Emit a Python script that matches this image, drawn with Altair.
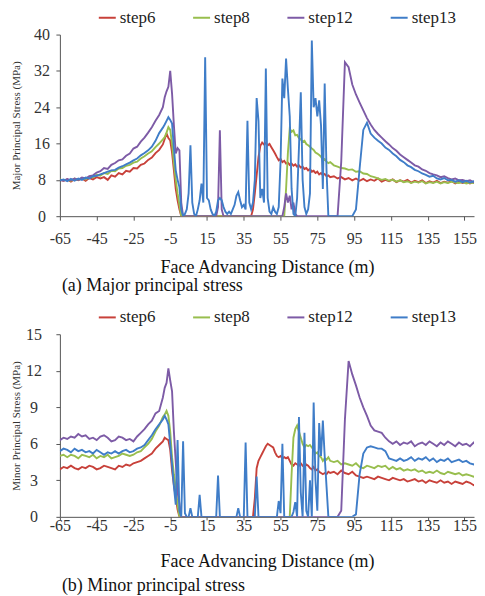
import altair as alt
import pandas as pd

# sampling grid of face advancing distance (m)
X = list(range(-65, -8, 2)) + list(range(-8, 83)) + list(range(84, 165, 2))

SERIES = ["step6", "step8", "step12", "step13"]
COLORS = ["#C8413A", "#98BE4E", "#7D5BA6", "#3F7DC8"]
X_TICKS = [-65, -45, -25, -5, 15, 35, 55, 75, 95, 115, 135, 155]
MAJ_TICKS = [0, 8, 16, 24, 32, 40]
MIN_TICKS = [0, 3, 6, 9, 12, 15]

# ---------------- (a) Major principal stress (MPa) ----------------
MAJ_STEP6 = [
    8.0, 7.8, 8.1, 7.6, 8.2, 7.9, 8.3, 7.8, 8.4, 8.1,
    8.6, 8.3, 8.6, 8.0, 9.0, 8.7, 9.5, 9.2, 10.0, 9.8,
    10.6, 10.5, 11.3, 11.6, 12.4, 12.9, 13.9, 14.6, 15.8,
    17.0, 18.2, 17.2, 16.7, 14.0, 10.1, 6.0, 3.5, 1.5, 0,
    0, 0, 0, 0, 0, 0, 0, 0, 0, 0, 0, 0, 0, 0, 0, 0, 0, 0, 0,
    0, 0, 0, 0, 0, 0, 0, 0, 0, 0, 0, 0, 0, 0, 0, 0, 0, 0, 0,
    1.5, 5.0, 9.0, 13.0, 15.5, 16.2, 15.8, 16.1, 15.6, 15.9,
    15.2, 14.5, 13.8, 13.0, 12.3, 12.6, 11.9, 12.2, 11.6, 11.8,
    11.3, 11.6, 11.1, 11.4, 10.9, 11.2, 10.7, 10.9, 10.4, 10.6,
    10.1, 10.4, 9.8, 10.0, 9.5, 9.8, 9.2, 9.5, 9.0, 9.3,
    8.8, 9.0, 8.6,
    8.8, 8.3, 8.6, 8.1, 8.4, 7.9, 8.3, 7.8, 8.2, 7.7,
    8.1, 7.8, 8.3, 7.6, 8.0, 7.7, 8.1, 7.5, 7.9, 7.6,
    8.0, 7.4, 7.8, 7.5, 7.9, 7.3, 7.7, 7.4, 7.8, 7.3,
    7.6, 7.4, 7.7, 7.2, 7.6, 7.3, 7.5, 7.2, 7.6, 7.3, 7.4,
]
MAJ_STEP8 = [
    8.1, 7.9, 8.0, 7.8, 8.3, 8.0, 8.4, 8.1, 8.7, 8.5,
    9.1, 8.9, 9.5, 9.3, 10.0, 9.9, 10.5, 10.6, 11.1, 11.3,
    11.8, 12.0, 12.7, 13.2, 13.8, 14.3, 15.2, 16.0, 16.9,
    17.4, 18.4, 19.6, 19.0, 16.0, 11.6, 8.0, 5.0, 2.5, 0,
    0, 0, 0, 0, 0, 0, 0, 0, 0, 0, 0, 0, 0, 0, 0, 0, 0, 0, 0, 0,
    0, 0, 0, 0, 0, 0, 0, 0, 0, 0, 0, 0, 0, 0, 0, 0, 0, 0, 0, 0,
    0, 0, 0, 0, 0, 0, 0, 0, 0, 0, 0, 0, 0, 0, 0, 0,
    6.0, 14.0,
    19.3, 18.6, 18.9, 17.8, 17.9, 17.2, 16.9, 16.4, 16.6, 15.9,
    15.6, 15.3, 14.9, 14.6, 14.0, 13.8, 13.5, 13.1, 12.4, 12.6,
    12.0, 11.7, 11.9,
    11.2, 10.9, 10.6, 10.5, 10.2, 10.3, 9.8, 9.9, 9.4, 9.3,
    8.8, 8.6, 8.3, 8.0, 8.2, 7.8, 8.0, 7.6, 7.9, 7.5,
    7.7, 7.3, 7.6, 7.4, 7.7, 7.2, 7.5, 7.3, 7.6, 7.2,
    7.5, 7.3, 7.6, 7.4, 7.3, 7.5, 7.2, 7.4, 7.3, 7.1, 7.3,
]
MAJ_STEP12 = [
    8.0, 7.8, 8.2, 7.9, 8.3, 8.0, 8.5, 8.3, 8.8, 9.0,
    9.6, 9.9, 10.6, 10.4, 11.3, 11.7, 12.3, 12.5, 13.3, 13.8,
    14.9, 15.3, 16.4, 17.3, 18.4, 19.6, 21.0, 22.3, 24.0,
    26.2, 27.5, 28.5, 32.0, 27.0, 20.0, 13.8, 15.0, 14.5, 3.0,
    0, 0, 0, 0, 0, 0, 0, 0, 0, 0, 0, 0, 0, 0, 0, 0, 0, 0, 0,
    2.0, 18.9, 1.5,
    0, 0, 0, 0, 0, 0, 0, 0, 0, 0, 0, 0, 0, 0, 0, 0, 0,
    0, 0, 0, 0, 0, 0, 0, 0, 0, 0, 0, 0, 0, 0, 0, 0,
    2.0, 5.0, 3.0, 4.5, 1.5, 3.0, 0.5,
    0, 0, 0, 0, 0, 0, 0, 0, 0, 0, 0, 0, 0, 0, 0, 0, 0, 0, 0,
    0, 0, 12.0, 33.9, 32.8, 29.0, 26.8, 25.0, 23.3, 21.6,
    20.2, 19.0, 18.1, 17.3, 16.5, 15.8, 15.0, 14.4, 13.6, 13.0,
    12.4, 11.8, 11.2, 10.9, 10.3, 10.0, 9.5, 9.2, 9.0, 8.6,
    8.8, 8.4, 8.1, 8.3, 7.9, 8.0, 7.7, 7.9, 7.5, 7.7, 7.4,
]
MAJ_STEP13 = [
    7.9, 8.1, 7.7, 8.2, 7.8, 8.3, 8.0, 8.5, 8.3, 8.8,
    8.9, 9.2, 9.5, 9.8, 10.1, 10.2, 10.7, 11.0, 11.4, 11.8,
    12.3, 12.7, 13.4, 13.9, 14.5, 15.3, 16.6, 18.3, 19.5,
    20.2, 21.0, 21.8, 21.2, 20.4, 15.0, 10.1, 8.0, 6.4, 1.5,
    0, 0.5, 1.5, 5.0, 15.6, 3.0, 0.5, 0, 1.5, 3.5,
    7.2, 3.0, 35.0, 4.0, 3.5, 1.5, 0.5, 0, 1.0, 3.5,
    4.0, 3.5, 2.0, 1.0, 0.5, 1.0, 0.5, 1.5, 2.5, 4.5,
    5.3, 3.5, 2.0, 2.5, 1.5, 21.0, 3.0, 1.5, 3.0, 8.0,
    26.0, 21.0, 4.0, 6.0, 3.0, 32.5, 4.0, 1.0, 0.5, 2.0,
    1.0, 0.5, 2.0, 12.0, 30.3, 26.0, 34.7, 28.0, 22.0, 6.0,
    0.5, 0, 4.0, 15.0, 27.3, 8.0, 2.0, 0.5, 1.5, 5.0,
    38.7, 24.0, 26.0, 22.0, 25.5, 20.0, 6.0, 29.2, 10.0, 0,
    0,
    0, 0, 0, 0, 0, 0, 1.5, 10.5, 19.0, 20.6,
    18.2, 17.3, 16.6, 16.0, 15.1, 14.6, 13.8, 13.2, 12.4, 11.9,
    11.2, 10.8, 10.2, 9.9, 9.4, 9.1, 8.7, 8.9, 8.3, 8.1,
    8.4, 7.9, 8.0, 7.6, 7.9, 7.5, 7.8, 7.4, 7.7, 7.3, 7.5,
]

# ---------------- (b) Minor principal stress (MPa) ----------------
MIN_STEP6 = [
    3.9, 4.1, 4.0, 4.2, 4.0, 3.9, 4.1, 4.0, 4.2, 4.1,
    3.9, 4.0, 4.2, 4.1, 4.0, 3.9, 4.2, 4.1, 4.3, 4.2,
    4.4, 4.5, 4.6, 4.8, 5.0, 5.2, 5.6, 5.9, 6.2,
    6.5, 6.4, 6.3, 5.5, 3.8, 2.6, 1.6, 0.6, 0, 0,
    0, 0, 0, 0, 0, 0, 0, 0, 0, 0, 0, 0, 0, 0, 0, 0, 0, 0, 0,
    0, 0, 0, 0, 0, 0, 0, 0, 0, 0, 0, 0, 0, 0, 0, 0, 0, 0, 0,
    0, 1.5, 4.0, 4.6, 4.9, 5.2, 5.5, 5.8, 6.0, 5.9,
    5.8, 5.7, 5.3, 5.0, 4.9, 5.0, 4.8, 4.9, 4.8, 4.9,
    4.6, 4.3, 4.2, 4.4, 4.3, 4.2, 4.4, 4.2, 4.1, 4.3,
    4.2, 4.0, 3.9, 4.1, 3.8, 3.9, 3.7, 3.6, 3.5, 3.6,
    3.5, 3.7, 3.6,
    3.7, 3.5, 3.8, 3.6, 3.5, 3.7, 3.4, 3.3, 3.2, 3.3,
    3.2, 3.1, 3.3, 3.2, 3.1, 3.0, 3.2, 3.1, 3.0, 3.1,
    2.9, 3.0, 3.1, 2.9, 3.0, 2.8, 3.0, 2.9, 2.8, 3.0,
    2.8, 2.9, 2.7, 2.9, 2.8, 2.7, 2.9, 2.8, 2.6, 2.8, 2.7,
]
MIN_STEP8 = [
    5.0, 5.1, 4.9, 5.1, 5.0, 4.8, 5.1, 5.0, 4.9, 5.1,
    4.8, 5.0, 4.9, 5.1, 4.8, 4.9, 5.0, 5.2, 5.1, 5.0,
    5.1, 5.3, 5.4, 5.7, 6.0, 6.4, 7.0, 7.5, 8.2,
    8.4, 8.7, 8.3, 7.0, 4.9, 3.5, 2.4, 1.0, 0, 0,
    0, 0, 0, 0, 0, 0, 0, 0, 0, 0, 0, 0, 0, 0, 0, 0, 0, 0, 0, 0,
    0, 0, 0, 0, 0, 0, 0, 0, 0, 0, 0, 0, 0, 0, 0, 0, 0, 0, 0, 0,
    0, 0, 0, 0, 0, 0, 0, 0, 0, 0, 0, 0, 0, 0, 0, 0, 0, 0, 0,
    3.5, 6.5,
    7.2, 7.5, 7.0, 6.5, 6.0, 5.7, 5.9, 5.8, 5.9, 5.7,
    5.5, 5.2, 5.3, 5.0, 4.9, 4.6, 4.8, 4.7, 4.9, 4.6,
    4.5, 4.6, 4.3, 4.4, 4.3, 4.2, 4.4, 4.1, 4.0, 4.2,
    4.1, 4.0, 4.2, 4.1, 4.2, 3.9, 4.1, 3.9, 4.0, 3.8,
    3.9, 3.8, 3.9, 3.7, 3.8, 3.6, 3.7, 3.6, 3.8, 3.6,
    3.5, 3.7, 3.6, 3.5, 3.6, 3.4, 3.5, 3.4, 3.3, 3.4, 3.2,
]
MIN_STEP12 = [
    6.3, 6.5, 6.4, 6.6, 6.5, 6.8, 6.6, 6.7, 6.4, 6.5,
    6.3, 6.6, 6.7, 6.5, 6.2, 6.3, 6.6, 6.5, 6.3, 6.4,
    6.2, 6.6, 6.9, 7.2, 7.6, 7.9, 8.5, 8.7, 9.8,
    10.6, 11.0, 12.2, 11.2, 10.3, 7.0, 4.5, 2.0, 1.1, 0,
    0, 0, 0, 0, 0, 0, 0, 0, 0, 0, 0, 0, 0, 0, 0, 0, 0, 0, 0, 0,
    0, 0, 0, 0, 0, 0, 0, 0, 0, 0, 0, 0, 0, 0, 0, 0, 0, 0, 0, 0,
    0, 0, 0, 0, 0, 0, 0, 0, 0, 0, 0, 0, 0, 0, 0, 0, 0, 0, 0, 0,
    0, 0, 0, 0, 0, 0, 0, 0, 0, 0, 0, 0, 0, 0, 0, 0, 0, 0, 0, 0,
    0,
    0, 0, 0.5, 8.0, 12.8, 11.7, 10.8, 9.8, 9.0, 8.3,
    7.5, 7.1, 7.0, 6.9, 6.5, 6.2, 6.0, 6.2, 5.9, 6.1,
    6.0, 6.2, 5.8, 6.0, 6.1, 5.9, 6.2, 6.0, 5.8, 6.1,
    5.9, 6.2, 6.0, 5.8, 6.1, 5.9, 6.0, 5.8, 6.1, 5.8, 5.7,
]
MIN_STEP13 = [
    5.4, 5.6, 5.5, 5.3, 5.6, 5.4, 5.5, 5.3, 5.4, 5.2,
    5.5, 5.3, 5.1, 5.3, 5.2, 5.4, 5.2, 5.4, 5.5, 5.3,
    5.4, 5.6, 5.7, 5.9, 6.3, 6.7, 7.2, 7.6, 8.0,
    8.3, 8.0, 7.6, 6.0, 4.3, 2.5, 1.0, 6.3, 0.5, 0,
    6.2, 0.3, 0, 0, 0.7, 0, 0, 0, 0, 1.8,
    0, 0, 0, 0, 0, 0, 0, 0, 0,
    3.4,
    0, 0, 0, 0, 0, 0, 0, 0, 0, 0,
    0.7,
    0, 0, 0,
    6.1,
    0, 0, 0, 0, 0,
    3.3,
    0, 0, 0, 0, 0, 0, 0, 0, 0, 0, 0,
    1.3, 0.3, 6.0, 0, 0, 0, 0, 0, 0.4, 1.2,
    0, 8.2, 2.0, 0, 6.9, 0.5, 0, 3.0, 0, 9.4,
    3.0, 0.5, 7.7, 5.0, 7.9, 5.0, 2.5, 0, 0,
    0, 0, 0, 0, 0, 0, 0.2, 3.5, 5.2, 5.7,
    5.8, 5.7, 5.6, 5.6, 5.4, 4.8, 4.7, 4.6, 4.8, 4.6,
    4.7, 4.9, 4.6, 4.8, 4.7, 4.9, 4.6, 4.8, 4.5, 4.7,
    4.6, 4.8, 4.5, 4.6, 4.7, 4.5, 4.6, 4.4, 4.3, 4.5, 4.2,
]

FONT = "Liberation Serif"
X_MAX = 160.2
PLOT_W = 415


def long_table(lists):
    rows = []
    for name, vals in zip(SERIES, lists):
        assert len(vals) == len(X), (name, len(vals), len(X))
        for x, v in zip(X, vals):
            rows.append({"x": x, "v": v, "s": name})
    return pd.DataFrame(rows)


def panel(df, ymax, yticks, ytitle, caption, height, x_tick, x_lpad, x_tpad,
          y_lpad, y_tpad, cap_offset):
    return alt.Chart(df).mark_line(strokeWidth=1.9, clip=True).encode(
        x=alt.X(
            "x:Q",
            scale=alt.Scale(domain=[-65, X_MAX], nice=False, zero=False),
            axis=alt.Axis(
                values=X_TICKS, title="Face Advancing Distance (m)", grid=False,
                tickSize=x_tick, labelPadding=x_lpad, titlePadding=x_tpad,
                labelExpr="datum.value < 0 ? '-' + (-datum.value) : '' + datum.value",
                labelFont=FONT, labelFontSize=16, labelColor="#333",
                titleFont=FONT, titleFontSize=18, titleFontWeight="normal",
                titleColor="#111", domainColor="#555", tickColor="#555",
                labelFlush=False, labelOverlap=False,
            ),
        ),
        y=alt.Y(
            "v:Q",
            scale=alt.Scale(domain=[0, ymax], nice=False),
            axis=alt.Axis(
                values=yticks, title=ytitle, grid=False, tickSize=4,
                labelAlign="center", labelPadding=y_lpad, titlePadding=y_tpad,
                labelFont=FONT, labelFontSize=16, labelColor="#333",
                titleFont=FONT, titleFontSize=11, titleFontWeight="normal",
                titleColor="#333", domainColor="#555", tickColor="#555",
            ),
        ),
        color=alt.Color(
            "s:N",
            scale=alt.Scale(domain=SERIES, range=COLORS),
            title=None,
            legend=alt.Legend(
                orient="none", legendX=38, legendY=-26.6, direction="horizontal",
                symbolType="stroke", symbolSize=289, symbolStrokeWidth=2,
                labelFont=FONT, labelFontSize=17, labelColor="#222",
                labelOffset=3, columnPadding=33.5,
            ),
        ),
    ).properties(
        width=PLOT_W,
        height=height,
        title=alt.TitleParams(
            caption, orient="bottom", anchor="start", frame="group",
            offset=cap_offset, font=FONT, fontSize=18, fontWeight="normal",
            color="#111", dx=2,
        ),
    )


top = panel(long_table([MAJ_STEP6, MAJ_STEP8, MAJ_STEP12, MAJ_STEP13]),
            40, MAJ_TICKS, "Major Principal Stress (MPa)",
            "(a) Major principal stress", 182,
            4, 10, 12, 14.5, 12, 0.5)
bottom = panel(long_table([MIN_STEP6, MIN_STEP8, MIN_STEP12, MIN_STEP13]),
               15, MIN_TICKS, "Minor Principal Stress (MPa)",
               "(b) Minor principal stress", 183,
               3, -2.5, 19, 22.5, 4, 7)

chart = alt.vconcat(top, bottom, spacing=12.3).resolve_legend(
    color="independent"
).properties(
    padding={"left": 2, "top": -1, "right": 0, "bottom": 0}
).configure(
    font=FONT, background="white"
).configure_view(
    stroke=None
).configure_axis(
    labelFont=FONT, titleFont=FONT, titleFontWeight="normal"
).configure_legend(
    labelFont=FONT
).configure_title(
    font=FONT, fontWeight="normal"
)

chart.save("out.html", embed_options={"renderer": "svg", "actions": False})
